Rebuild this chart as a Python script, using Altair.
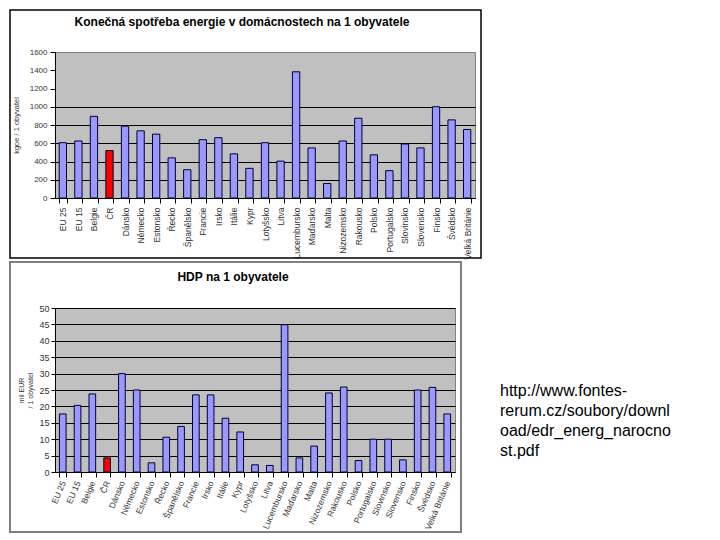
import altair as alt
import pandas as pd

countries = ["EU 25", "EU 15", "Belgie", "ČR", "Dánsko", "Německo", "Estonsko",
             "Řecko", "Španělsko", "Francie", "Irsko", "Itálie", "Kypr", "Lotyšsko",
             "Litva", "Lucembursko", "Maďarsko", "Malta", "Nizozemsko", "Rakousko",
             "Polsko", "Portugalsko", "Slovinsko", "Slovensko", "Finsko", "Švédsko",
             "Velká Británie"]
energy = [606, 625, 895, 520, 787, 736, 700, 440, 310, 639, 661, 484, 325, 606, 404,
          1383, 549, 159, 625, 874, 473, 300, 592, 549, 1000, 856, 751]
gdp = [17.7, 20.3, 23.8, 4.3, 30.0, 25.0, 2.8, 10.6, 13.9, 23.5, 23.5, 16.4, 12.2,
       2.2, 2.0, 44.9, 4.3, 7.9, 24.1, 25.9, 3.5, 10.0, 10.0, 3.7, 25.0, 25.8, 17.7]
energy_ticks = [0, 200, 400, 600, 800, 1000, 1200, 1400, 1600]
gdp_ticks = [0, 5, 10, 15, 20, 25, 30, 35, 40, 45, 50]

title_top = "Konečná spotřeba energie v domácnostech na 1 obyvatele"
title_bottom = "HDP na 1 obyvatele"
ytitle_top = "kgoe / 1 obyvatel"
ytitle_bottom = ["mil EUR", "/ 1 obyvatel"]
source_lines = ["http://www.fontes-", "rerum.cz/soubory/downl", "oad/edr_energ_narocno", "st.pdf"]

FONT = "Liberation Sans"
df_e = pd.DataFrame({"country": countries, "value": energy})
df_g = pd.DataFrame({"country": countries, "value": gdp})
one = pd.DataFrame({"k": [0]})

bar_color = alt.condition(alt.datum.country == "ČR", alt.value("#FF0000"), alt.value("#9999FF"))

# ---------------- top chart ----------------
W1, H1 = 420, 146
frame1 = alt.Chart(one).mark_rect(fillOpacity=0, stroke="#000000", strokeWidth=1.5).encode(
    x=alt.value(-45), x2=alt.value(W1 + 6), y=alt.value(-42), y2=alt.value(H1 + 60))
bars1 = alt.Chart(df_e).mark_bar(stroke="#000033", strokeWidth=1).encode(
    x=alt.X("country:N", sort=None, title=None,
            scale=alt.Scale(paddingInner=0.53, paddingOuter=0.27),
            axis=alt.Axis(labelAngle=270, labelAlign="right", labelBaseline="middle",
                          labelFontSize=8.5, labelColor="#333333", labelFont=FONT,
                          labelPadding=4, tickBand="extent", tickSize=5,
                          tickColor="#000000", domainColor="#000000", labelOverlap=False)),
    y=alt.Y("value:Q", title=ytitle_top,
            scale=alt.Scale(domain=[0, 1600], nice=False),
            axis=alt.Axis(values=energy_ticks, format="d", labelFontSize=8, labelColor="#333333",
                          labelFont=FONT, tickSize=5, labelPadding=3,
                          tickColor="#000000", domainColor="#000000",
                          grid=True, gridColor="#000000",
                          gridOpacity={"condition": {"test": "datum.value > 1000", "value": 0}, "value": 1},
                          titleFontSize=7.5, titleFontWeight="normal", titleColor="#333333",
                          titleFont=FONT, titlePadding=9)),
    color=bar_color)
t1 = alt.Chart(one).mark_text(text=title_top, fontSize=12, fontWeight="bold", font=FONT,
                              align="center", baseline="middle", color="#000000").encode(
    x=alt.value(187), y=alt.value(-30))
top = alt.layer(frame1, bars1, t1).properties(width=W1, height=H1)

# ---------------- bottom chart ----------------
W2, H2 = 400, 164
frame2 = alt.Chart(one).mark_rect(fillOpacity=0, stroke="#808080", strokeWidth=2).encode(
    x=alt.value(-45), x2=alt.value(W2 + 6), y=alt.value(-46), y2=alt.value(H2 + 60))
bars2 = alt.Chart(df_g).mark_bar(stroke="#000033", strokeWidth=1).encode(
    x=alt.X("country:N", sort=None, title=None,
            scale=alt.Scale(paddingInner=0.55, paddingOuter=0.3),
            axis=alt.Axis(labelAngle=293, labelAlign="right", labelBaseline="middle",
                          labelFontSize=8.5, labelColor="#333333", labelFont=FONT,
                          labelPadding=4, tickBand="extent", tickSize=5,
                          tickColor="#000000", domainColor="#000000", labelOverlap=False)),
    y=alt.Y("value:Q", title=ytitle_bottom,
            scale=alt.Scale(domain=[0, 50], nice=False),
            axis=alt.Axis(values=gdp_ticks, format="d", labelFontSize=9, labelColor="#333333",
                          labelFont=FONT, tickSize=4, labelPadding=2,
                          tickColor="#000000", domainColor="#000000",
                          grid=True, gridColor="#000000",
                          titleFontSize=7, titleFontWeight="normal", titleColor="#333333",
                          titleFont=FONT, titlePadding=5)),
    color=bar_color)
t2 = alt.Chart(one).mark_text(text=title_bottom, fontSize=12, fontWeight="bold", font=FONT,
                              align="center", baseline="middle", color="#000000").encode(
    x=alt.value(178), y=alt.value(-31))
src = alt.Chart(one).mark_text(text=source_lines, fontSize=16, font=FONT, align="left",
                               baseline="middle", lineHeight=20, color="#000000").encode(
    x=alt.value(445), y=alt.value(83))
bottom = alt.layer(frame2, bars2, t2, src).properties(width=W2, height=H2)

chart = alt.vconcat(top, bottom, spacing=0).properties(padding=0).configure(
    font=FONT,
    view=alt.ViewConfig(fill="#C0C0C0", stroke="#808080"))

chart.save("out.html", embed_options={"renderer": "svg", "actions": False})
